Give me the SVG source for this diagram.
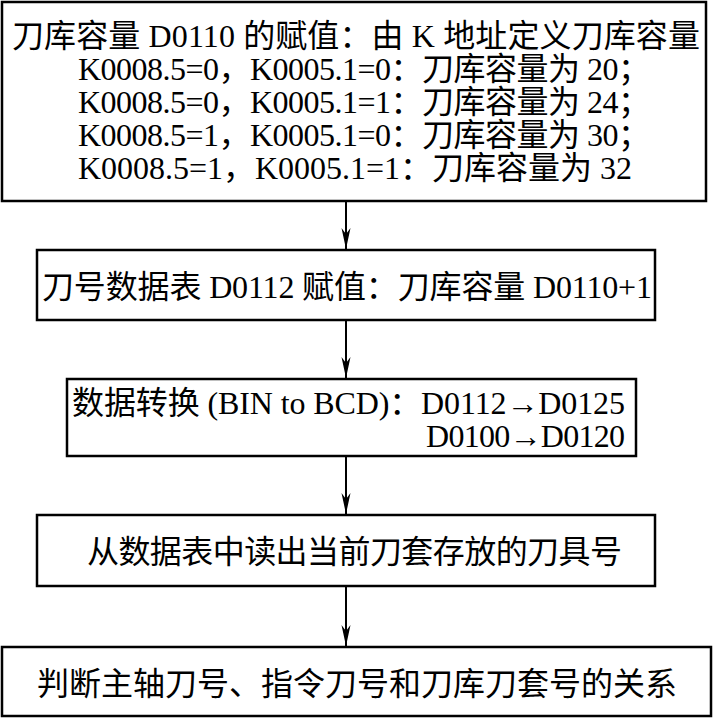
<svg xmlns="http://www.w3.org/2000/svg" width="713" height="719" viewBox="0 0 713 719">
<style>
.box{fill:#fff;stroke:#000;stroke-width:2.5}
.t{font-family:"Liberation Serif","Noto Sans CJK SC",serif;font-size:32px;fill:#000}
.c{stroke:#000;stroke-width:2;fill:none}
</style>
<defs>
<marker id="ah" markerUnits="userSpaceOnUse" markerWidth="24" markerHeight="12" viewBox="-22 -6 24 12" refX="0" refY="0" orient="auto">
<path d="M0,0 L-21,-4.5 L-15,0 L-21,4.5 Z" fill="#000"/>
</marker>
</defs>
<rect width="713" height="719" fill="#fff"/>
<g id="connectors">
<line class="c" x1="346" y1="201" x2="346" y2="249" marker-end="url(#ah)"/>
<line class="c" x1="346" y1="320" x2="346" y2="378" marker-end="url(#ah)"/>
<line class="c" x1="346" y1="456" x2="346" y2="514" marker-end="url(#ah)"/>
<line class="c" x1="346" y1="586" x2="346" y2="646" marker-end="url(#ah)"/>
</g>
<g id="n1">
<rect class="box" x="2" y="2" width="704" height="199"/>
<text class="t" x="12" y="47" textLength="688">刀库容量 D0110 的赋值：由 K 地址定义刀库容量</text>
<text class="t" x="78" y="80" textLength="572">K0008.5=0，K0005.1=0：刀库容量为 20；</text>
<text class="t" x="78" y="113" textLength="572">K0008.5=0，K0005.1=1：刀库容量为 24；</text>
<text class="t" x="78" y="146" textLength="572">K0008.5=1，K0005.1=0：刀库容量为 30；</text>
<text class="t" x="78" y="179" textLength="554">K0008.5=1，K0005.1=1：刀库容量为 32</text>
</g>
<g id="n2">
<rect class="box" x="37" y="250" width="618" height="70"/>
<text class="t" x="42" y="298" textLength="610">刀号数据表 D0112 赋值：刀库容量 D0110+1</text>
</g>
<g id="n3">
<rect class="box" x="67" y="379" width="569" height="77"/>
<text class="t" x="72" y="414" textLength="553">数据转换 (BIN to BCD)：D0112→D0125</text>
<text class="t" x="426" y="447" textLength="199">D0100→D0120</text>
</g>
<g id="n4">
<rect class="box" x="37" y="515" width="618" height="71"/>
<text class="t" x="87" y="563" textLength="535">从数据表中读出当前刀套存放的刀具号</text>
</g>
<g id="n5">
<rect class="box" x="2" y="647" width="709" height="69"/>
<text class="t" x="37" y="695" textLength="640">判断主轴刀号、指令刀号和刀库刀套号的关系</text>
</g>
</svg>
